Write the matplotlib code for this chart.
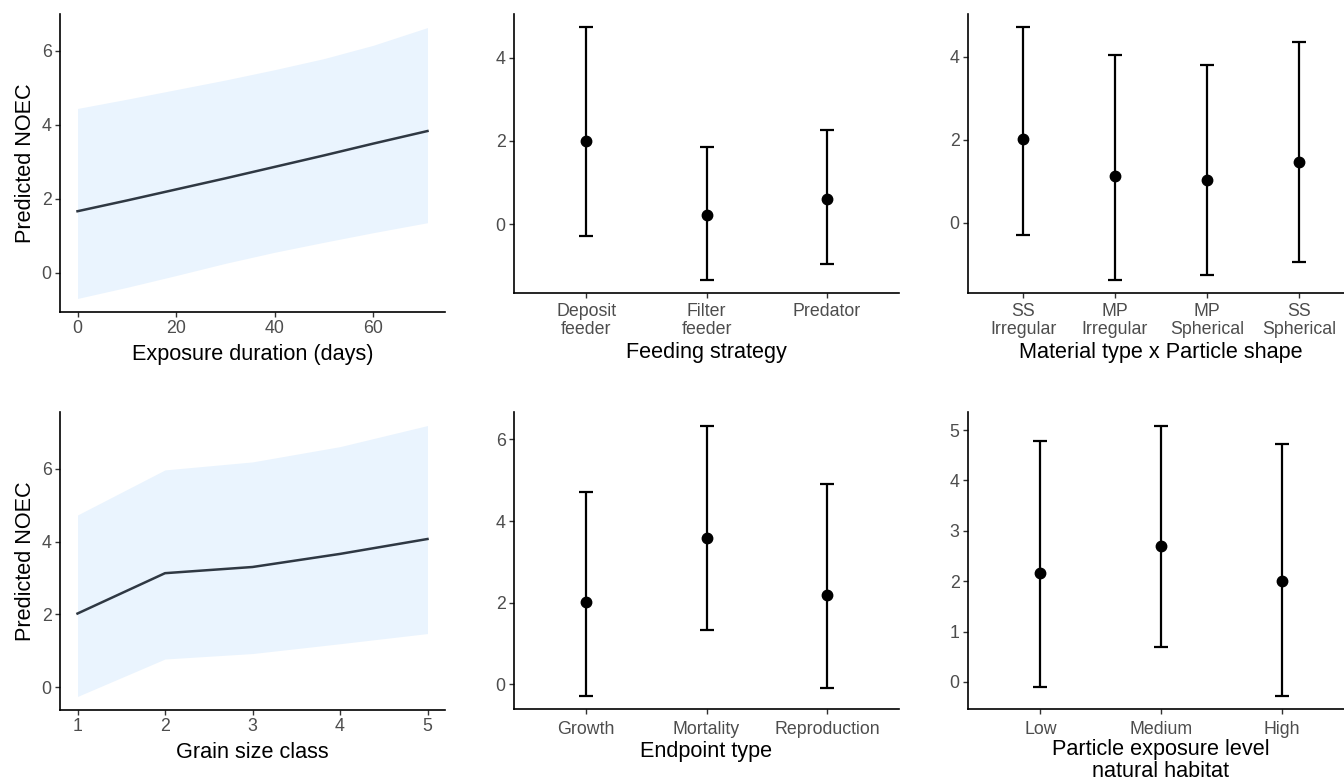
import matplotlib
matplotlib.use("Agg")
import matplotlib.pyplot as plt
import numpy as np

plt.rcParams['font.family'] = ['Liberation Sans', 'DejaVu Sans']

# panel 1: exposure duration
dur_x = [0, 10, 20, 30, 40, 50, 60, 71]
dur_fit = [1.66, 1.95, 2.25, 2.55, 2.86, 3.17, 3.49, 3.83]
dur_lo = [-0.70, -0.40, -0.08, 0.25, 0.55, 0.82, 1.08, 1.35]
dur_hi = [4.44, 4.69, 4.95, 5.21, 5.49, 5.79, 6.15, 6.63]

# panel 4: grain size class
grain_x = [1, 2, 3, 4, 5]
grain_fit = [2.02, 3.13, 3.30, 3.66, 4.07]
grain_lo = [-0.26, 0.77, 0.92, 1.19, 1.47]
grain_hi = [4.73, 5.97, 6.19, 6.61, 7.19]

# panel 2: feeding strategy
feed_lab = ["Deposit\nfeeder", "Filter\nfeeder", "Predator"]
feed_fit = [2.01, 0.23, 0.62]
feed_lo = [-0.27, -1.34, -0.94]
feed_hi = [4.74, 1.85, 2.26]

# panel 3: material x shape
mat_lab = ["SS\nIrregular", "MP\nIrregular", "MP\nSpherical", "SS\nSpherical"]
mat_fit = [2.02, 1.14, 1.03, 1.47]
mat_lo = [-0.28, -1.38, -1.25, -0.95]
mat_hi = [4.72, 4.05, 3.79, 4.35]

# panel 5: endpoint type
end_lab = ["Growth", "Mortality", "Reproduction"]
end_fit = [2.01, 3.58, 2.20]
end_lo = [-0.27, 1.34, -0.09]
end_hi = [4.71, 6.34, 4.92]

# panel 6: exposure level
lev_lab = ["Low", "Medium", "High"]
lev_fit = [2.17, 2.69, 2.01]
lev_lo = [-0.11, 0.69, -0.27]
lev_hi = [4.78, 5.09, 4.73]

W, H = 1344, 783
fig = plt.figure(figsize=(W / 100, H / 100), dpi=100)

TICK = 12.8
TITLE = 15.6


def ax_px(x0, y0, x1, y1):
    return fig.add_axes([x0 / W, 1 - y1 / H, (x1 - x0) / W, (y1 - y0) / H])


def style(ax):
    for s in ['top', 'right']:
        ax.spines[s].set_visible(False)
    for s in ['left', 'bottom']:
        ax.spines[s].set_linewidth(1.2)
    ax.tick_params(direction='out', length=3.5, width=1.0, color='#333333',
                   labelsize=TICK, labelcolor='#4D4D4D', pad=2.5)


def expand(lo, hi, m=0.05):
    r = hi - lo
    return lo - m * r, hi + m * r


def ribbon(ax, x, fit, lo, hi, xlabel, ylabel):
    ax.fill_between(x, lo, hi, color='#EAF4FE', lw=0)
    ax.plot(x, fit, color='#2F3843', lw=1.8)
    ax.set_xlim(*expand(min(x), max(x)))
    ax.set_ylim(*expand(min(lo), max(hi)))
    ax.set_xlabel(xlabel, fontsize=TITLE, labelpad=5)
    ax.set_ylabel(ylabel, fontsize=TITLE, labelpad=4)
    style(ax)


def points(ax, labels, fit, lo, hi, xlabel, tpad=6, lpad=4):
    x = np.arange(1, len(labels) + 1)
    fit = np.array(fit)
    err = [fit - np.array(lo), np.array(hi) - fit]
    ax.errorbar(x, fit, yerr=err, fmt='o', color='black', ms=7.5,
                elinewidth=1.6, capsize=4.8, capthick=1.6)
    ax.set_xticks(x)
    ax.set_xticklabels(labels, linespacing=1.05)
    ax.set_xlim(0.4, len(labels) + 0.6)
    ax.set_ylim(*expand(min(lo), max(hi)))
    ax.set_xlabel(xlabel, fontsize=TITLE, labelpad=lpad, linespacing=1.05)
    style(ax)
    ax.tick_params(axis='x', pad=tpad)


a1 = ax_px(60, 14, 445, 312)
ribbon(a1, dur_x, dur_fit, dur_lo, dur_hi, "Exposure duration (days)", "Predicted NOEC")
a1.set_xticks([0, 20, 40, 60])
a1.set_yticks([0, 2, 4, 6])

a2 = ax_px(514, 14, 899, 293)
points(a2, feed_lab, feed_fit, feed_lo, feed_hi, "Feeding strategy", tpad=4, lpad=3)
a2.set_yticks([0, 2, 4])

a3 = ax_px(968, 14, 1354, 293)
points(a3, mat_lab, mat_fit, mat_lo, mat_hi, "Material type x Particle shape", tpad=4, lpad=3)
a3.set_yticks([0, 2, 4])

a4 = ax_px(60, 412, 445, 710)
ribbon(a4, grain_x, grain_fit, grain_lo, grain_hi, "Grain size class", "Predicted NOEC")
a4.set_xticks([1, 2, 3, 4, 5])
a4.set_yticks([0, 2, 4, 6])

a5 = ax_px(514, 412, 899, 709)
points(a5, end_lab, end_fit, end_lo, end_hi, "Endpoint type", tpad=5, lpad=2)
a5.set_yticks([0, 2, 4, 6])

a6 = ax_px(968, 412, 1354, 709)
points(a6, lev_lab, lev_fit, lev_lo, lev_hi, "Particle exposure level\nnatural habitat", tpad=5, lpad=1)
a6.set_yticks([0, 1, 2, 3, 4, 5])

fig.savefig("out.png", dpi=100)
